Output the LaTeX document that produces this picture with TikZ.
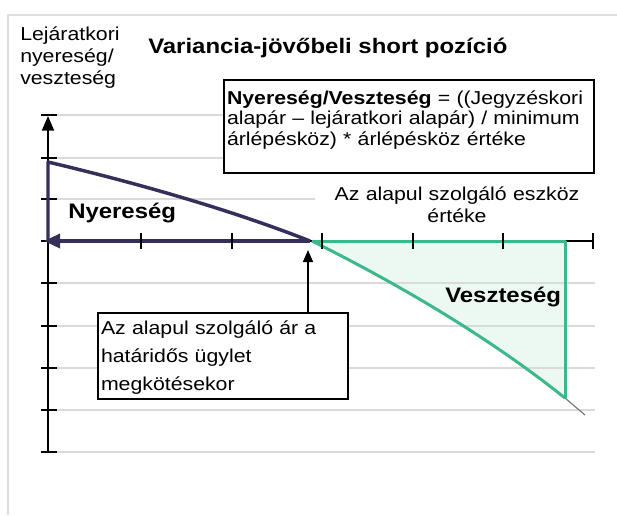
\documentclass[tikz,border=0pt]{standalone}
\usepackage{fontspec}
\setmainfont{Liberation Sans}[FakeStretch=1.14]
\usetikzlibrary{arrows.meta}
\definecolor{navy}{RGB}{52,48,90}
\definecolor{lossgreen}{RGB}{60,184,138}
\definecolor{lossfill}{RGB}{236,249,243}
\definecolor{gridgray}{RGB}{218,218,218}
\definecolor{framegray}{RGB}{222,222,222}
\definecolor{tailgray}{RGB}{120,120,120}
\begin{document}
\begin{tikzpicture}[x=0.75pt,y=-0.75pt,
  gridline/.style={gridgray,line width=1.5pt},
  axisline/.style={black,line width=1.5pt},
  tickline/.style={black,line width=1.5pt},
  gainline/.style={navy,line width=2.6pt,line join=round},
  lossline/.style={lossgreen,line width=2.25pt,line join=round},
  regular/.style={font={\fontsize{14}{16.5}\selectfont}},
  boldlabel/.style={font={\bfseries\fontsize{15.75}{18}\selectfont}},
  textbox/.style={draw=black,line width=1.5pt,fill=white,align=left,inner xsep=2.25pt,inner ysep=0pt}
]
\useasboundingbox (0,0) rectangle (617,515);
% frame
\draw[framegray,line width=1.2pt] (8,515) -- (8,15) -- (617,15);

% loss area fill
\fill[lossfill] (312,241) .. controls (412.7,291.3) and (497,343.7) .. (565,398) -- (565,241) -- cycle;

% grid lines
\foreach \yy in {115,158,199,283,326,368,410,452}
  \draw[gridline] (57,\yy) -- (595,\yy);

% label backgrounds / labels
\node[boldlabel,fill=white,anchor=base west,text width=229*0.75pt,align=left,
      inner xsep=2.25pt,inner ysep=0pt,text height=18*0.75pt,text depth=14*0.75pt]
      (gain) at (65,218) {Nyereség};
\node[regular,fill=white,anchor=base,text width=285*0.75pt,align=center,
      inner xsep=0pt,inner ysep=0pt,text height=15*0.75pt,text depth=32*0.75pt]
      (xlabel) at (457,200) {Az alapul szolgáló eszköz\\értéke};
\node[boldlabel,fill=lossfill,anchor=base west,inner sep=1.5pt] (loss) at (443,302) {Veszteség};

% y label and title
\node[regular,anchor=base west,text width=130*0.75pt,align=left,inner sep=0pt,
      font={\fontsize{14}{16.8}\selectfont}]
      (ylabel) at (20,40) {Lejáratkori\\nyereség/\\veszteség};
\node[boldlabel,anchor=base west,inner sep=0pt] (title) at (148,53) {Variancia-jövőbeli short pozíció};

% coordinates
\coordinate (ybot) at (48,452);
\coordinate (ytop) at (48,116);
\coordinate (strike) at (310,241);
\coordinate (xend) at (593,241);
\coordinate (gainstart) at (48,162);
\coordinate (origin) at (48,241);
\coordinate (gaintip) at (44,241);
\coordinate (losscorner) at (565,241);
\coordinate (lossend) at (565,398);
\coordinate (tailend) at (585,415);
\coordinate (arrtip) at (308,250);

% y axis
\draw[axisline,-{Triangle[length=11pt,width=9pt]}] (ybot) -- (ytop);
\foreach \yy in {115,158,199,241,283,326,368,410,452}
  \draw[tickline] (41,\yy) -- (57,\yy);

% x axis right part
\draw[axisline] (strike) -- (xend);

% gain (navy)
\draw[gainline] (origin) -- (gainstart) .. controls (152,186.7) and (238.7,213) .. (strike);
\draw[gainline,-{Triangle[length=12pt,width=10.5pt]}] (strike) -- (gaintip);

% loss (green)
\draw[lossline] (312,241) -- (losscorner) -- (lossend);
\draw[lossline] (312,241) .. controls (412.7,291.3) and (497,343.7) .. (lossend);
\draw[tailgray,line width=0.9pt] (lossend) -- (tailend);

% x ticks
\foreach \xx in {141,232,322,413,503,593}
  \draw[tickline] (\xx,233) -- (\xx,249);

% formula box
\node[textbox,regular,font={\fontsize{14}{15.5}\selectfont},anchor=north west,
      text width=364*0.75pt,text height=24*0.75pt,text depth=69*0.75pt]
      (formula) at (223,79)
  {\textbf{Nyereség/Veszteség} = ((Jegyzéskori\\alapár – lejáratkori alapár) / minimum\\árlépésköz) * árlépésköz értéke};

% strike price box
\node[textbox,regular,font={\fontsize{14}{21}\selectfont},anchor=north west,
      text width=244*0.75pt,text height=21*0.75pt,text depth=65*0.75pt]
      (strikebox) at (97,312)
  {Az alapul szolgáló ár a\\határidős ügylet\\megkötésekor};

\draw[black,line width=1.1pt,-{Triangle[length=9pt,width=7.5pt]}] (strikebox.north -| arrtip) -- (arrtip);
\end{tikzpicture}
\end{document}
